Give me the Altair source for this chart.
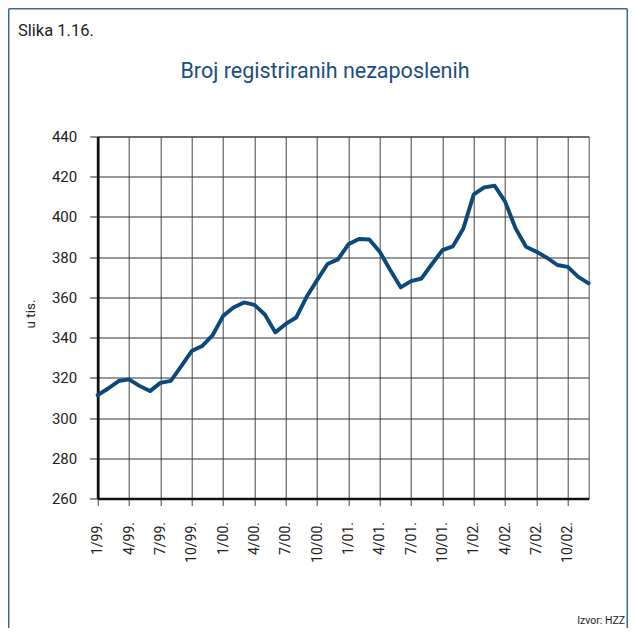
import altair as alt
import pandas as pd

months = [
    "1/99.", "2/99.", "3/99.", "4/99.", "5/99.", "6/99.", "7/99.", "8/99.", "9/99.", "10/99.", "11/99.", "12/99.",
    "1/00.", "2/00.", "3/00.", "4/00.", "5/00.", "6/00.", "7/00.", "8/00.", "9/00.", "10/00.", "11/00.", "12/00.",
    "1/01.", "2/01.", "3/01.", "4/01.", "5/01.", "6/01.", "7/01.", "8/01.", "9/01.", "10/01.", "11/01.", "12/01.",
    "1/02.", "2/02.", "3/02.", "4/02.", "5/02.", "6/02.", "7/02.", "8/02.", "9/02.", "10/02.", "11/02.", "12/02.",
]
unemployed = [
    311.4, 314.7, 318.4, 319.2, 316.0, 313.4, 317.5, 318.5, 325.8, 333.3, 335.8, 341.2,
    350.7, 355.0, 357.5, 356.3, 351.5, 342.6, 346.8, 350.0, 360.3, 368.6, 376.6, 378.9,
    386.4, 389.0, 388.8, 382.7, 373.6, 365.0, 368.1, 369.4, 376.6, 383.5, 385.4, 394.3,
    411.2, 414.7, 415.5, 407.6, 394.3, 385.2, 382.7, 379.7, 376.1, 375.2, 370.2, 367.0,
]
x_tick_step = 3
y_ticks = [260, 280, 300, 320, 340, 360, 380, 400, 420, 440]

FONT = "Roboto"
W, H = 491, 362
PAD_L, PAD_T, PAD_R, PAD_B = 89.7, 128.5, 39.3, 129.5

df = pd.DataFrame({"idx": list(range(len(months))), "month": months, "value": unemployed})
x_tick_values = list(range(0, len(months), x_tick_step))
label_array = "[" + ",".join("'" + m + "'" for m in months) + "]"

line = alt.Chart(df).mark_line(color="#0c4879", strokeWidth=3.9, strokeJoin="round", strokeCap="round").encode(
    x=alt.X("idx:Q", title=None,
            scale=alt.Scale(domain=[0, len(months) - 1], nice=False, zero=False),
            axis=alt.Axis(values=x_tick_values, labelExpr=label_array + "[datum.value]",
                          labelAngle=-90, labelFontSize=14, labelFont=FONT,
                          labelColor="#222", labelPadding=16, tickSize=7, tickColor="#444",
                          domainColor="#111", domainWidth=2.5, grid=True, gridColor="#444",
                          gridWidth=1, labelOverlap=False, labelFlush=False, labelBound=False)),
    y=alt.Y("value:Q", title=None,
            scale=alt.Scale(domain=[260, 440], nice=False, zero=False),
            axis=alt.Axis(values=y_ticks, labelFontSize=15, labelFont=FONT, labelColor="#222",
                          labelPadding=13, tickSize=8, tickColor="#222", domainColor="#111",
                          domainWidth=2.8, grid=True, gridColor="#333", gridWidth=1,
                          labelFlush=False, labelOverlap=False)),
)

one = alt.Data(values=[{"k": 1}])

def txt(text, x, y, size, color="#222", align="left", angle=0):
    kw = dict(text=text, fontSize=size, font=FONT, color=color, align=align, baseline="middle")
    if angle:
        kw["angle"] = angle
    return alt.Chart(one).mark_text(**kw).encode(x=alt.value(x), y=alt.value(y))

slika = txt("Slika 1.16.", -79.7, -105.5, 16.5)
title = txt("Broj registriranih nezaposlenih", 227.3, -64.5, 21.5, color="#1b4f80", align="center")
unit = txt("u tis.", -67.2, 177.5, 13.5, align="center", angle=270)
source = txt("Izvor: HZZ", 527.3, 484.5, 10.5, align="right")

frame_color = "#3c6a96"
frame_left = alt.Chart(one).mark_rule(color=frame_color, strokeWidth=1.5).encode(
    x=alt.value(-PAD_L + 0.75), y=alt.value(-PAD_T + 0.75), y2=alt.value(H + PAD_B))
frame_top = alt.Chart(one).mark_rule(color=frame_color, strokeWidth=1.5).encode(
    x=alt.value(-PAD_L + 0.75), x2=alt.value(W + PAD_R - 0.75), y=alt.value(-PAD_T + 0.75))
frame_right = alt.Chart(one).mark_rule(color=frame_color, strokeWidth=1.5).encode(
    x=alt.value(W + PAD_R - 0.75), y=alt.value(-PAD_T + 0.75), y2=alt.value(H + PAD_B))

chart = alt.layer(line, slika, title, unit, source, frame_left, frame_top, frame_right).properties(
    width=W, height=H,
    autosize=alt.AutoSizeParams(type="none"),
    padding={"left": PAD_L, "top": PAD_T, "right": PAD_R, "bottom": PAD_B},
    background="white",
).configure_view(stroke="#555", strokeWidth=1)

chart.save("out.html", embed_options={"renderer": "svg", "actions": False})
